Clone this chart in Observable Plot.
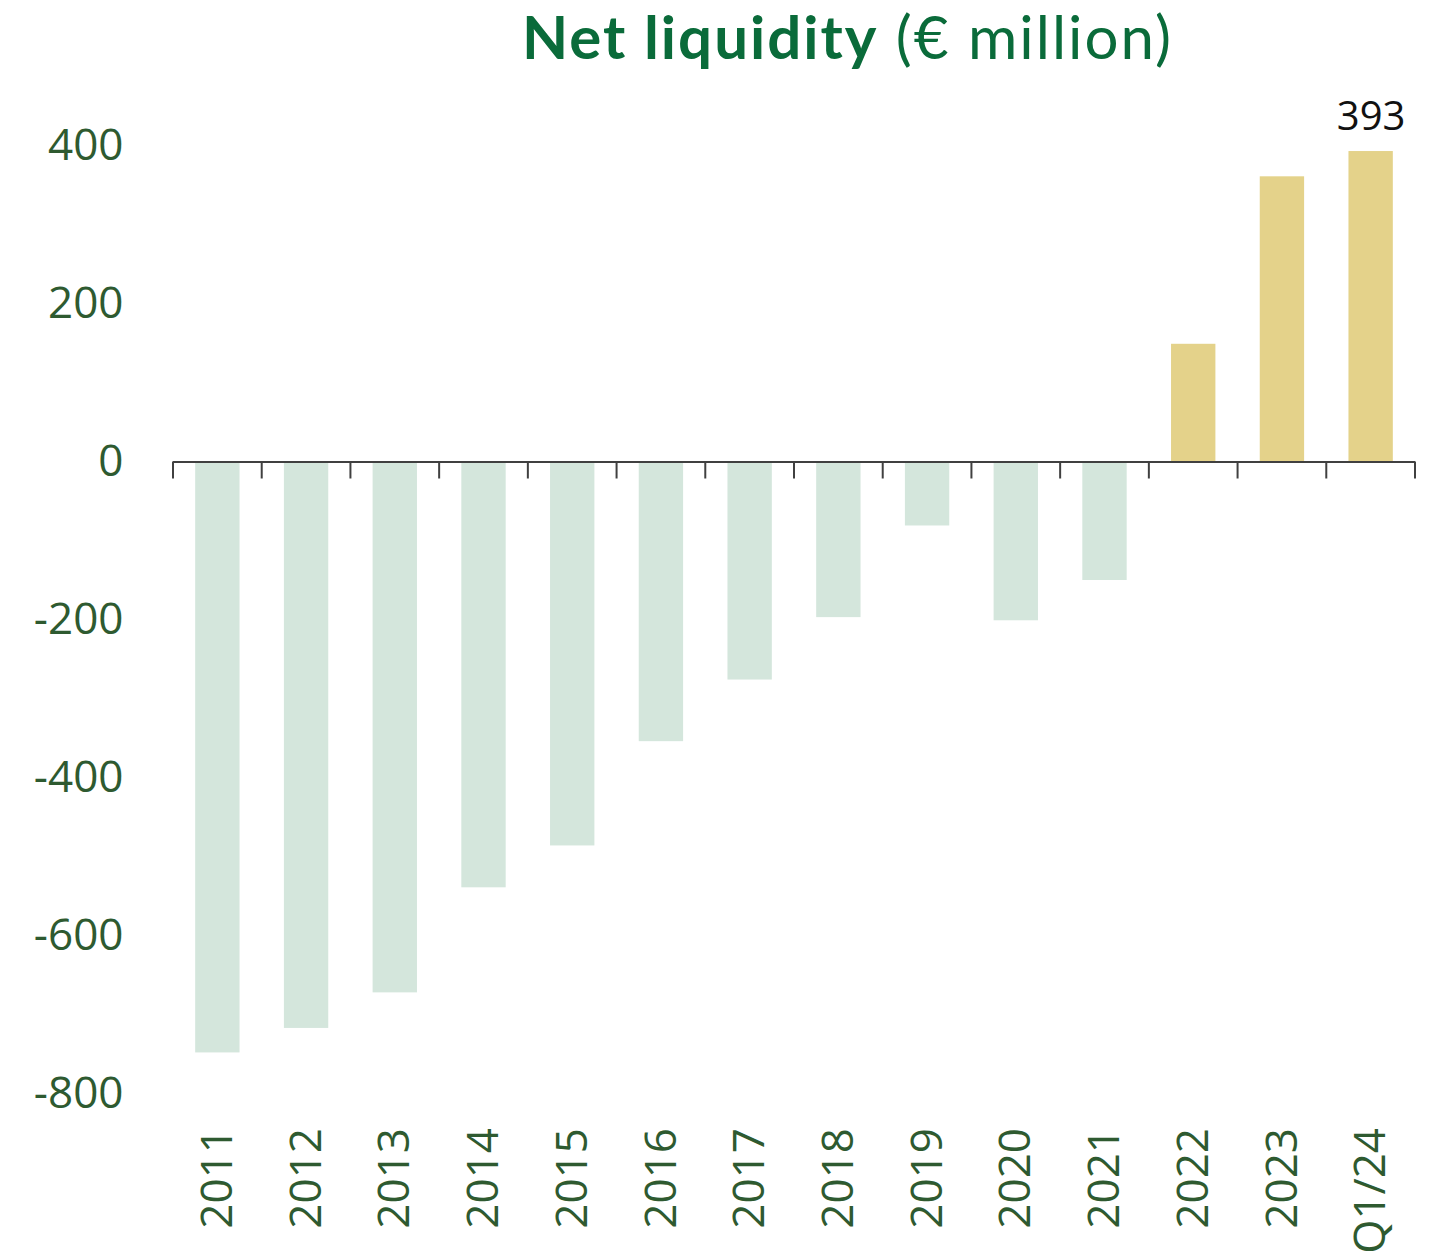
<!DOCTYPE html>
<html>
<head>
<meta charset="utf-8">
<script src="https://cdn.jsdelivr.net/npm/d3@7"></script>
<script src="https://cdn.jsdelivr.net/npm/@observablehq/plot@0.6"></script>
<style>
  html, body { margin: 0; padding: 0; background: #fff; }
  #wrap { position: relative; width: 1445px; height: 1254px; }
  #title { position: absolute; left: 522px; top: 6px; font-family: Lato, "Open Sans", sans-serif; font-size: 60px; line-height: 60px; letter-spacing: 2px; color: #0a6b3a; white-space: nowrap; }
  #title b { font-weight: 700; }
  #title span { font-weight: 400; }
  #chart { position: absolute; left: 0; top: 0; }
</style>
</head>
<body>
<div id="wrap">
  <div id="chart"></div>
  <div id="title"><b>Net liquidity</b><span> (€ million)</span></div>
</div>
<script>
const categories = ["2011","2012","2013","2014","2015","2016","2017","2018","2019","2020","2021","2022","2023","Q1/24"];
const values = [-748, -717, -672, -539, -486, -354, -276, -197, -81, -201, -150, 149, 361, 393];
const yTicks = [-800, -600, -400, -200, 0, 200, 400];
const labelledCategories = ["Q1/24"];

const negColor = "#d4e6dc";
const posColor = "#e4d28a";
const textColor = "#2e5a30";
const axisColor = "#404040";

const data = categories.map((c, i) => ({cat: c, value: values[i]}));

const plot = Plot.plot({
  width: 1445,
  height: 1254,
  marginLeft: 173,
  marginRight: 30,
  marginTop: 145.5,
  marginBottom: 160.5,
  style: {fontFamily: "'Open Sans', sans-serif", fontSize: "44px", color: textColor, background: "white", overflow: "visible"},
  x: {domain: categories, paddingInner: 0.5, paddingOuter: 0.25, round: false, axis: null},
  y: {domain: [-800, 400], axis: null},
  color: {type: "identity"},
  marks: [
    Plot.barY(data, {x: "cat", y: "value", fill: d => d.value < 0 ? negColor : posColor}),
    Plot.ruleY([0], {stroke: axisColor, strokeWidth: 2}),
    Plot.axisY({ticks: yTicks, tickSize: 0, tickPadding: 50, tickFormat: d => String(d), label: null, fill: textColor}),
    Plot.axisX({anchor: "bottom", tickSize: 0, tickRotate: -90, tickPadding: 34, label: null, fill: textColor}),
    Plot.text(data.filter(d => labelledCategories.includes(d.cat)), {
      x: "cat", y: "value", text: d => String(d.value), dy: -22, lineAnchor: "bottom",
      fill: "#111", fontSize: 40
    })
  ]
});

// category boundary ticks on the zero line, from Plot's own scales
const sx = plot.scale("x");
const sy = plot.scale("y");
const y0 = sy.apply(0);
const gap = (sx.step - sx.bandwidth) / 2;
const bounds = categories.map(c => sx.apply(c) - gap);
bounds.push(sx.apply(categories[categories.length - 1]) + sx.bandwidth + gap);
d3.select(plot).append("g")
  .attr("stroke", axisColor)
  .attr("stroke-width", 2)
  .selectAll("line")
  .data(bounds)
  .join("line")
  .attr("x1", d => d).attr("x2", d => d)
  .attr("y1", y0).attr("y2", y0 + 17);

document.getElementById("chart").appendChild(plot);
</script>
</body>
</html>
